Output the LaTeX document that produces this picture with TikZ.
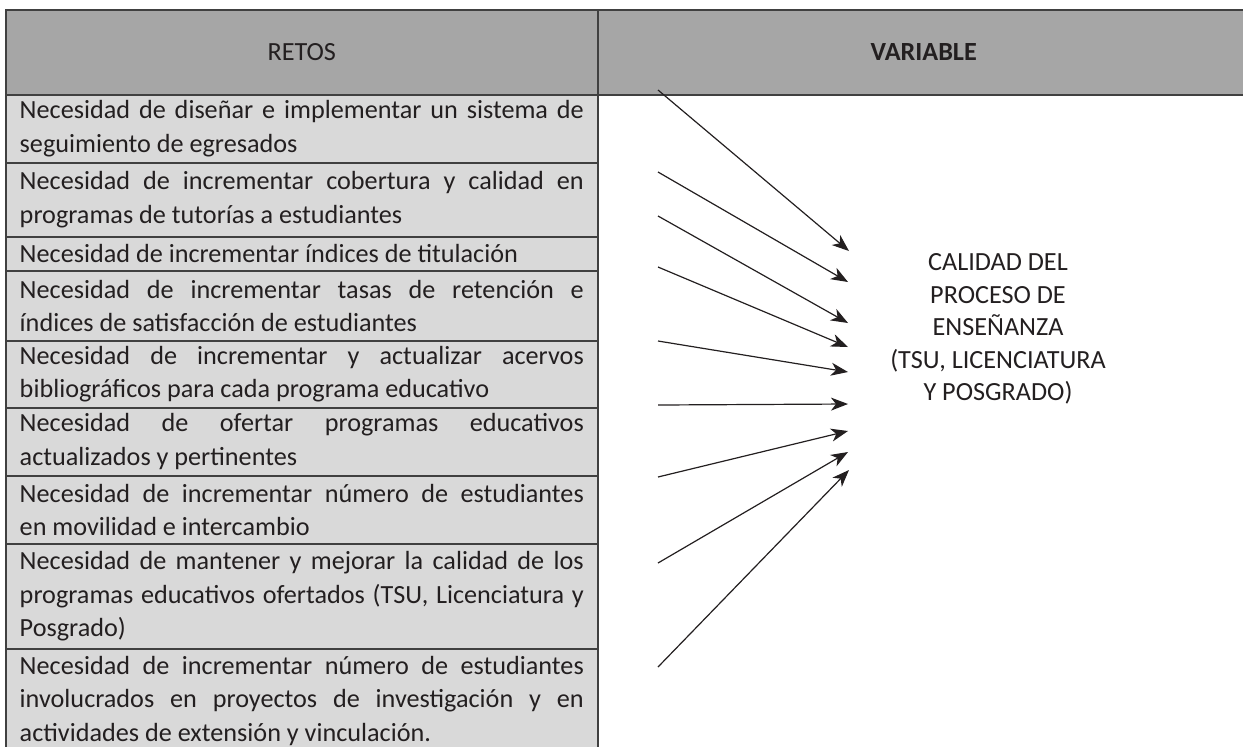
\documentclass[tikz,border=0pt]{standalone}
\usepackage{fontspec}
\setmainfont{Carlito}
\usetikzlibrary{arrows.meta}
\definecolor{cabeza}{HTML}{A6A6A6}
\definecolor{fila}{HTML}{D9D9D9}
\definecolor{borde}{HTML}{404040}
\definecolor{tinta}{HTML}{231F20}
\def\retofont{\fontsize{13.1}{16.75}\selectfont}

\begin{document}
\begin{tikzpicture}[x=0.5pt, y=-0.5pt,
		reto/.style={draw=borde, line width=0.75pt, fill=fila, anchor=north west, text width=282pt, inner xsep=7pt, inner ysep=0pt, align=justify, text=tinta, font=\retofont},
		cabecera/.style={draw=borde, line width=0.75pt, fill=cabeza, anchor=north west, minimum height=42.5pt, inner sep=0pt, text=tinta, font=\retofont},
		flecha/.style={draw=tinta, line width=0.6pt, -{Stealth[length=8.5pt, width=6.5pt, inset=2.5pt]}}]
			%%%%% START %%%%%
			
			\useasboundingbox (0, 0) rectangle (1243, 746);
			\clip (0, 0) rectangle (1243, 746);
			
			\node[cabecera, minimum width=296pt] (retos) at (5, 9) {RETOS};
			\node[cabecera, minimum width=326pt] (variable) at (597, 9) {\bfseries VARIABLE};
			
			\node[reto, minimum height=34pt] (r1) at (5, 94) {Necesidad de diseñar e implementar un sistema de\linebreak seguimiento de egresados};
			\node[reto, minimum height=37pt] (r2) at (5, 162) {Necesidad de incrementar cobertura y calidad en\linebreak programas de tutorías a estudiantes};
			\node[reto, minimum height=17pt] (r3) at (5, 236) {Necesidad de incrementar índices de titulación};
			\node[reto, minimum height=35pt] (r4) at (5, 270) {Necesidad de incrementar tasas de retención e\linebreak índices de satisfacción de estudiantes};
			\node[reto, minimum height=33.5pt] (r5) at (5, 340) {Necesidad de incrementar y actualizar acervos\linebreak bibliográficos para cada programa educativo};
			\node[reto, minimum height=34pt] (r6) at (5, 407) {Necesidad de ofertar programas educativos\linebreak actualizados y pertinentes};
			\node[reto, minimum height=34pt] (r7) at (5, 475) {Necesidad de incrementar número de estudiantes\linebreak en movilidad e intercambio};
			\node[reto, minimum height=52.5pt] (r8) at (5, 543) {Necesidad de mantener y mejorar la calidad de los\linebreak programas educativos ofertados (TSU, Licenciatura y\linebreak Posgrado)};
			\node[reto, minimum height=52pt] (r9) at (5, 648) {Necesidad de incrementar número de estudiantes\linebreak involucrados en proyectos de investigación y en\linebreak actividades de extensión y vinculación.};
			
			\node[text=tinta, font=\fontsize{13.1}{16.25}\selectfont, align=center] (calidad) at (998, 329) {CALIDAD DEL\\PROCESO DE\\ENSEÑANZA\\(TSU, LICENCIATURA\\Y POSGRADO)};
			
			\coordinate (s1) at (658, 90);	\coordinate (t1) at (849, 251);
			\coordinate (s2) at (658, 172);	\coordinate (t2) at (848, 282);
			\coordinate (s3) at (658, 216);	\coordinate (t3) at (848, 323);
			\coordinate (s4) at (658, 267);	\coordinate (t4) at (848, 347);
			\coordinate (s5) at (658, 341);	\coordinate (t5) at (848, 372);
			\coordinate (s6) at (658, 405);	\coordinate (t6) at (848, 404);
			\coordinate (s7) at (658, 477);	\coordinate (t7) at (848, 431);
			\coordinate (s8) at (658, 563);	\coordinate (t8) at (848, 452);
			\coordinate (s9) at (658, 667);	\coordinate (t9) at (849, 470);
			
			\foreach \i in {1,...,9}
				\draw[flecha] (s\i) -- (t\i);
			
			%%%%% END %%%%%
		\end{tikzpicture}
\end{document}
